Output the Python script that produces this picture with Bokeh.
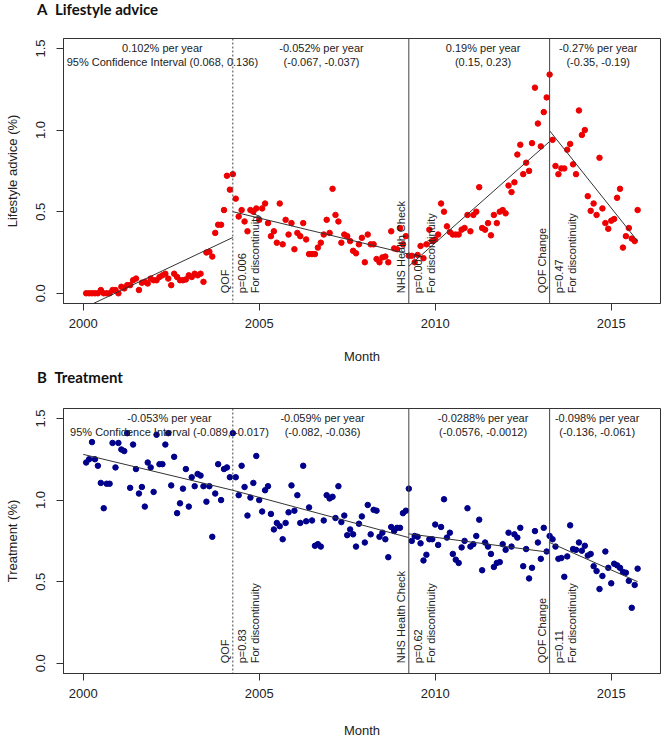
import math
from bokeh.plotting import figure
from bokeh.layouts import column
from bokeh.models import ColumnDataSource, FixedTicker, Span, NumeralTickFormatter, Div
from bokeh.core.properties import value
from bokeh.embed import file_html
from bokeh.resources import INLINE

# ---------------- data ----------------
months = [2000 + m / 12 for m in range(1, 190)]  # Jan 2000 .. Sep 2015, monthly

lifestyle = [
    0, 0, 0, 0, 0, 0.02, 0, 0, 0, 0.02,
    0.02, 0, 0.04, 0.03, 0.05, 0.05, 0.08, 0.09, 0.02, 0.065,
    0.07, 0.06, 0.09, 0.08, 0.08, 0.10, 0.11, 0.12, 0.09, 0.05,
    0.12, 0.10, 0.08, 0.08, 0.085, 0.11, 0.10, 0.12, 0.11, 0.12,
    0.07, 0.25, 0.255, 0.225, 0.37, 0.42, 0.42, 0.51, 0.72, 0.635,
    0.73,
    0.58, 0.47, 0.51, 0.44, 0.38, 0.51, 0.50, 0.52, 0.45, 0.52,
    0.55, 0.43, 0.35, 0.38, 0.31, 0.55, 0.30, 0.45, 0.36, 0.43,
    0.27, 0.37, 0.35, 0.43, 0.33, 0.24, 0.24, 0.24, 0.28, 0.31,
    0.36, 0.45, 0.37, 0.64, 0.48, 0.44, 0.31, 0.36, 0.35, 0.32,
    0.26, 0.245, 0.30, 0.34, 0.19, 0.36, 0.30, 0.30, 0.21, 0.19,
    0.22, 0.225, 0.19, 0.38, 0.275, 0.27, 0.40, 0.30, 0.35, 0.23,
    0.23, 0.19, 0.235, 0.29, 0.215, 0.30, 0.39, 0.32, 0.33, 0.36,
    0.55, 0.50, 0.41, 0.375, 0.36, 0.36, 0.36, 0.39, 0.40, 0.48,
    0.38, 0.48, 0.50, 0.65, 0.40, 0.39, 0.43, 0.355, 0.48, 0.43,
    0.50, 0.51, 0.49, 0.66, 0.62, 0.68, 0.85, 0.91, 0.73, 0.80,
    0.75, 0.92, 1.26, 1.04, 0.90, 1.11, 1.20, 1.34,
    0.94, 0.78, 0.73, 0.765, 0.765, 0.88, 0.915, 0.79, 0.73, 1.12,
    0.97, 1.00, 0.595, 0.505, 0.55, 0.48, 0.83, 0.52, 0.43, 0.395,
    0.445, 0.455, 0.585, 0.64, 0.28, 0.35, 0.40, 0.335, 0.32, 0.51,
]

treatment = [
    1.23, 1.25, 1.355, 1.25, 1.21, 1.105, 0.95, 1.10, 1.10, 1.35,
    1.20, 1.35, 1.31, 1.30, 1.41, 1.075, 1.34, 1.19, 1.04, 1.08,
    0.96, 1.23, 1.20, 1.05, 1.40, 1.22, 1.22, 1.34, 1.41, 1.09,
    1.265, 0.92, 0.98, 1.07, 1.19, 0.96, 1.14, 1.085, 1.16, 1.15,
    1.085, 0.99, 1.085, 0.775, 1.04, 1.22, 1.00, 1.19, 1.20, 1.14,
    1.41,
    1.14, 1.03, 1.21, 1.08, 0.905, 1.015, 1.105, 1.27, 1.00, 0.93,
    1.06, 1.085, 0.915, 0.82, 0.86, 0.84, 0.76, 0.86, 0.925, 1.09,
    0.935, 1.03, 0.86, 1.21, 0.87, 0.955, 0.875, 0.72, 0.73, 0.715,
    0.875, 1.03, 1.01, 1.02, 0.89, 1.085, 0.865, 0.905, 0.785, 0.82,
    0.79, 0.715, 0.855, 0.90, 0.74, 0.97, 0.79, 0.94, 0.935, 0.775,
    0.80, 0.76, 0.65, 0.835, 0.81, 0.83, 0.83, 0.92, 0.935, 1.07,
    0.75, 0.78, 0.775, 0.735, 0.63, 0.665, 0.76, 0.76, 0.85, 0.725,
    0.835, 1.005, 0.77, 0.80, 0.67, 0.635, 0.615, 0.71, 0.75, 0.95,
    0.715, 0.73, 0.78, 0.88, 0.57, 0.74, 0.715, 0.67, 0.59, 0.615,
    0.62, 0.73, 0.695, 0.80, 0.715, 0.79, 0.77, 0.83, 0.595, 0.70,
    0.52, 0.585, 0.81, 0.74, 0.64, 0.83, 0.685, 0.78,
    0.76, 0.715, 0.64, 0.645, 0.53, 0.655, 0.845, 0.70, 0.695, 0.74,
    0.69, 0.72, 0.66, 0.67, 0.595, 0.565, 0.455, 0.535, 0.685, 0.585,
    0.49, 0.61, 0.60, 0.585, 0.56, 0.555, 0.505, 0.34, 0.48, 0.58,
]

breaks = [2004.25, 2009.25, 2013.25]
break_names = ["QOF", "NHS Health Check", "QOF Change"]
lifestyle_p = ["p=0.006", "p=0.007", "p=0.47"]
treatment_p = ["p=0.83", "p=0.62", "p=0.11"]
disc_text = ["For discontinuity", "For discontinuity", "For discontinuity"]

trend_x0 = [2000.0, 2004.25, 2009.25, 2013.25]
trend_x1 = [2004.25, 2009.25, 2013.25, 2015.75]
lifestyle_trend_y0 = [-0.092, 0.50, 0.166, 0.996]
lifestyle_trend_y1 = [0.342, 0.24, 0.93, 0.32]
treatment_trend_y0 = [1.28, 1.06, 0.793, 0.74]
treatment_trend_y1 = [1.06, 0.77, 0.68, 0.50]

lifestyle_rates = ["0.102% per year", "-0.052% per year", "0.19% per year", "-0.27% per year"]
lifestyle_ci = ["95% Confidence Interval (0.068, 0.136)", "(-0.067, -0.037)",
                "(0.15, 0.23)", "(-0.35, -0.19)"]
treatment_rates = ["-0.053% per year", "-0.059% per year", "-0.0288% per year", "-0.098% per year"]
treatment_ci = ["95% Confidence Interval (-0.089, -0.017)", "(-0.082, -0.036)",
                "(-0.0576, -0.0012)", "(-0.136, -0.061)"]

x_ticks = [2000, 2005, 2010, 2015]
y_ticks = [0.0, 0.5, 1.0, 1.5]

FONT = "Liberation Sans"
LINE = "#333333"


def heading(letter, text, pad_top):
    html = ('<div style="padding:%dpx 0 0 37px;font-family:Lato,sans-serif;font-weight:bold;'
            'font-size:15px;line-height:16px;color:#111111;white-space:nowrap">'
            '%s&ensp;%s</div>' % (pad_top, letter, text))
    return Div(text=html, width=661, height=20, margin=0)


def make_panel(ylabel, values, color, ty0, ty1, rates, cis, pvals,
               header_x, height, border_top, border_bottom, xlabel_standoff):
    p = figure(width=661, height=height, x_range=(1999.44, 2016.40), y_range=(-0.0625, 1.561),
               output_backend="svg", toolbar_location=None,
               min_border_left=63, min_border_right=1,
               min_border_top=border_top, min_border_bottom=border_bottom,
               background_fill_color="white", border_fill_color="white", margin=0)

    p.xgrid.visible = False
    p.ygrid.visible = False
    p.outline_line_color = LINE
    p.outline_line_width = 1

    for ax in (p.xaxis[0], p.yaxis[0]):
        ax.axis_line_color = LINE
        ax.major_tick_line_color = LINE
        ax.minor_tick_line_color = None
        ax.major_tick_in = 0
        ax.major_tick_out = 7
        ax.major_label_text_font = FONT
        ax.major_label_text_font_size = "13px"
        ax.major_label_text_color = "#222222"
        ax.axis_label_text_font = FONT
        ax.axis_label_text_font_size = "13px"
        ax.axis_label_text_font_style = "normal"
        ax.axis_label_text_color = "#222222"

    p.xaxis.ticker = FixedTicker(ticks=x_ticks)
    p.yaxis.ticker = FixedTicker(ticks=y_ticks)
    p.yaxis.formatter = NumeralTickFormatter(format="0.0")
    p.yaxis.major_label_orientation = "vertical"
    p.xaxis.major_label_standoff = 8
    p.yaxis.major_label_standoff = 11
    p.xaxis.axis_label = "Month"
    p.xaxis.axis_label_standoff = xlabel_standoff
    p.yaxis.axis_label = ylabel
    p.yaxis.axis_label_standoff = 14

    # intervention lines
    for i, b in enumerate(breaks):
        p.add_layout(Span(location=b, dimension="height", line_color="#444444", line_width=1,
                          line_dash="2 2" if i == 0 else "solid"))

    # points
    src = ColumnDataSource(dict(x=months, y=values))
    p.scatter("x", "y", source=src, size=5.5, fill_color=color, line_color=color)

    # segmented trends
    tsrc = ColumnDataSource(dict(x0=trend_x0, x1=trend_x1, y0=ty0, y1=ty1))
    p.segment("x0", "y0", "x1", "y1", source=tsrc, line_color="#333333", line_width=1)

    # header texts
    hsrc = ColumnDataSource(dict(x=header_x, y1=[1.50] * 4, y2=[1.418] * 4, t1=rates, t2=cis))
    common = dict(text_font=value(FONT), text_font_size="11px", text_color="#222222",
                  text_align="center", text_baseline="middle")
    p.text("x", "y1", text="t1", source=hsrc, **common)
    p.text("x", "y2", text="t2", source=hsrc, **common)

    # vertical labels at interventions
    vsrc = ColumnDataSource(dict(x=breaks, y=[0.0] * 3, name=break_names, pv=pvals, dt=disc_text))
    vcommon = dict(text_font=value(FONT), text_font_size="11px", text_color="#222222",
                   text_align="left", text_baseline="middle", angle=math.pi / 2)
    p.text("x", "y", text="name", source=vsrc, x_offset=-8, **vcommon)
    p.text("x", "y", text="pv", source=vsrc, x_offset=9, **vcommon)
    p.text("x", "y", text="dt", source=vsrc, x_offset=22, **vcommon)
    return p


top_title = heading("A", "Lifestyle advice", 1)
top = make_panel("Lifestyle advice (%)", lifestyle, "#EE0000",
                 lifestyle_trend_y0, lifestyle_trend_y1, lifestyle_rates, lifestyle_ci, lifestyle_p,
                 [2002.25, 2006.77, 2011.36, 2014.63], 346, 18, 61, 18)
bottom_title = heading("B", "Treatment", 3)
bottom = make_panel("Treatment (%)", treatment, "#00008B",
                    treatment_trend_y0, treatment_trend_y1, treatment_rates, treatment_ci, treatment_p,
                    [2002.45, 2006.8, 2011.36, 2014.6], 354, 22, 64, 22)

layout = column(top_title, top, bottom_title, bottom, spacing=0)
open("out.html", "w").write(file_html(layout, INLINE))
